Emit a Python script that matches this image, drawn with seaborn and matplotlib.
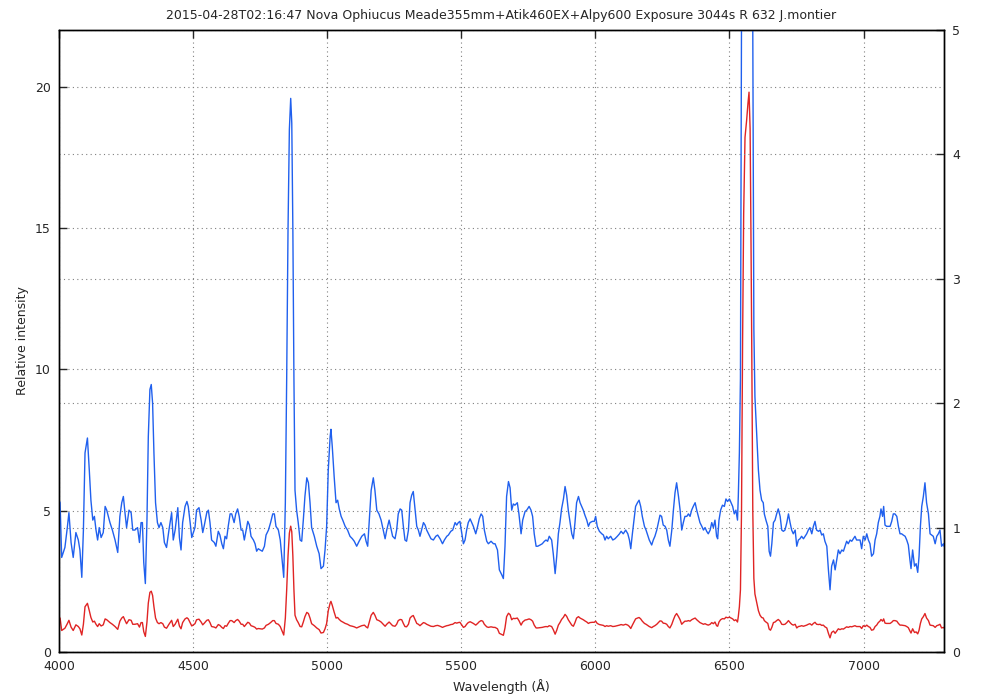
import matplotlib
matplotlib.use("Agg")
import matplotlib.pyplot as plt
import seaborn as sns

# spectrum: wavelength (A) and relative intensity
# red curve uses the left axis, blue curve is the same data on the right axis
wavelength = [
    4000, 4004, 4010, 4022, 4031, 4037, 4045, 4053, 4063, 4072, 4078, 4085, 4091, 4097,
    4106, 4113, 4119, 4126, 4132, 4138, 4144, 4150, 4157, 4165, 4172, 4178, 4184, 4190,
    4199, 4209, 4219, 4227, 4234, 4240, 4246, 4252, 4261, 4269, 4275, 4283, 4293, 4300,
    4306, 4311, 4316, 4322, 4328, 4333, 4339, 4344, 4349, 4354, 4360, 4367, 4373, 4380,
    4387, 4393, 4401, 4410, 4420, 4426, 4433, 4443, 4449, 4455, 4461, 4470, 4477, 4482,
    4489, 4495, 4501, 4507, 4513, 4522, 4530, 4536, 4542, 4551, 4557, 4563, 4569, 4579,
    4585, 4594, 4600, 4607, 4613, 4619, 4625, 4631, 4638, 4644, 4653, 4659, 4666, 4672,
    4679, 4685, 4691, 4697, 4704, 4710, 4716, 4725, 4731, 4737, 4743, 4750, 4758, 4766,
    4772, 4781, 4789, 4797, 4803, 4809, 4818, 4825, 4832, 4838, 4844, 4849, 4854, 4859,
    4864, 4868, 4872, 4876, 4880, 4886, 4892, 4899, 4905, 4911, 4917, 4924, 4930, 4936,
    4942, 4952, 4961, 4970, 4977, 4986, 4992, 4998, 5004, 5011, 5014, 5019, 5026, 5033,
    5039, 5045, 5052, 5058, 5067, 5076, 5085, 5094, 5101, 5110, 5119, 5129, 5139,
    5145, 5151, 5157, 5164, 5172, 5178, 5185, 5193, 5201, 5209, 5216, 5222, 5231, 5237,
    5244, 5253, 5259, 5265, 5272, 5278, 5284, 5290, 5296, 5303, 5309, 5315, 5321, 5328,
    5334, 5340, 5346, 5352, 5359, 5365, 5371, 5380, 5387, 5396, 5405, 5412, 5421, 5430,
    5437, 5446, 5452, 5461, 5468, 5477, 5483, 5489, 5495, 5502, 5508, 5514, 5520, 5526,
    5533, 5539, 5545, 5554, 5561, 5567, 5574, 5580, 5586, 5595, 5601, 5611, 5620, 5626,
    5635, 5642, 5651, 5657, 5663, 5669, 5676, 5682, 5688, 5694,
    5700, 5709, 5715, 5723, 5729, 5738, 5744, 5753, 5760, 5766, 5772, 5779, 5785, 5794,
    5802, 5810, 5816, 5822, 5828, 5837, 5843, 5850, 5856, 5862, 5868, 5874, 5881, 5887,
    5893, 5899, 5906, 5912, 5918, 5924, 5930, 5937, 5943, 5949, 5955, 5961, 5968, 5974,
    5980, 5989, 5996, 6001, 6007, 6015, 6024, 6030, 6036, 6042, 6048, 6057, 6065, 6073,
    6082, 6090, 6096, 6104, 6113, 6121, 6127, 6132, 6138, 6144, 6150, 6157, 6163, 6169,
    6175, 6183, 6189, 6195, 6201, 6210, 6216, 6222, 6229, 6235, 6241, 6247, 6253, 6260,
    6266, 6272, 6278, 6285, 6291, 6297, 6303, 6310, 6316, 6322, 6328, 6334, 6341, 6347,
    6353, 6359, 6365, 6372, 6378, 6384, 6390, 6397, 6403, 6409, 6415, 6421, 6428, 6434,
    6440, 6446, 6452, 6456, 6461, 6467, 6474, 6481, 6487, 6493, 6500, 6506, 6512, 6518,
    6524, 6530, 6533, 6537, 6541, 6545, 6549, 6553, 6558, 6564, 6569, 6573, 6577, 6580,
    6583, 6587, 6591, 6595, 6602, 6608, 6614, 6620, 6626, 6630, 6636, 6643, 6648, 6653,
    6658, 6664, 6670, 6676, 6682, 6689, 6695, 6701, 6707, 6714, 6720, 6726, 6732, 6738,
    6745, 6751, 6757, 6763, 6769, 6776,
    6782, 6788, 6794, 6800, 6807, 6813, 6819, 6825, 6832, 6838, 6844, 6850, 6856, 6863,
    6869, 6875, 6881, 6888, 6894, 6900, 6906, 6912, 6919, 6925, 6931, 6937, 6943, 6950,
    6956, 6962, 6968, 6974, 6981, 6987, 6993, 6999, 7006, 7012, 7018, 7024, 7030, 7037,
    7043, 7049, 7055, 7061, 7065, 7071, 7075, 7080, 7086, 7093, 7099, 7105, 7111, 7117,
    7124, 7130, 7136, 7142, 7148, 7155, 7161, 7167, 7173, 7177, 7183, 7190, 7196, 7202,
    7207, 7212, 7217, 7223, 7229, 7235, 7242, 7248, 7254, 7260, 7267, 7273, 7279, 7285,
    7291, 7298, 7300,
]
intensity = [
    1.22, 1.20, 0.76, 0.84, 1.00, 1.12, 0.88, 0.76, 0.96, 0.90, 0.82, 0.60, 0.98, 1.60,
    1.72, 1.46, 1.22, 1.06, 1.09, 0.98, 0.90, 1.00, 0.92, 0.96, 1.17, 1.14, 1.09, 1.04,
    0.98, 0.90, 0.80, 1.09, 1.20, 1.25, 1.12, 1.00, 1.14, 1.12, 0.98, 0.98, 1.00, 0.88,
    1.04, 1.04, 0.72, 0.55, 1.06, 1.73, 2.11, 2.15, 2.00, 1.60, 1.20, 1.04, 1.00, 1.04,
    1.00, 0.88, 0.84, 0.98, 1.12, 0.90, 0.98, 1.16, 0.92, 0.82, 1.04, 1.17, 1.21, 1.17,
    1.04, 0.92, 0.96, 1.00, 1.14, 1.16, 1.06, 0.96, 1.02, 1.12, 1.14, 1.04, 0.90, 0.88,
    0.85, 0.97, 0.94, 0.87, 0.83, 0.93, 0.91, 1.01, 1.11, 1.11, 1.04, 1.11, 1.15, 1.09,
    0.98, 0.98, 0.90, 0.97, 1.05, 1.02, 0.93, 0.90, 0.87, 0.81, 0.83, 0.82, 0.81, 0.85,
    0.94, 0.98, 1.04, 1.11, 1.11, 1.01, 0.98, 0.90, 0.74, 0.60, 1.20, 2.20, 3.40, 4.20,
    4.45, 4.25, 3.40, 2.20, 1.30, 1.14, 1.04, 0.90, 0.89, 1.06, 1.25, 1.40, 1.36, 1.20,
    1.00, 0.93, 0.85, 0.79, 0.67, 0.69, 0.82, 1.01, 1.46, 1.73, 1.79, 1.65, 1.41, 1.20,
    1.22, 1.15, 1.09, 1.06, 1.01, 0.98, 0.93, 0.91, 0.89, 0.85, 0.89, 0.93, 0.95,
    0.89, 0.85, 1.06, 1.30, 1.40, 1.30, 1.14, 1.11, 1.06, 0.98, 0.91, 0.98, 1.06, 1.00,
    0.93, 0.91, 0.98, 1.11, 1.15, 1.14, 1.01, 0.90, 0.89, 0.98, 1.20, 1.26, 1.29, 1.14,
    1.01, 0.98, 0.93, 0.98, 1.04, 1.02, 0.98, 0.94, 0.91, 0.90, 0.93, 0.94, 0.91, 0.87,
    0.90, 0.93, 0.94, 0.97, 0.98, 1.04, 1.02, 1.04, 1.05, 0.95, 0.87, 0.90, 0.98, 1.04,
    1.07, 1.04, 1.01, 0.95, 1.01, 1.07, 1.11, 1.09, 0.98, 0.89, 0.87, 0.89, 0.87, 0.87,
    0.82, 0.66, 0.62, 0.59, 0.85, 1.25, 1.37, 1.32, 1.14, 1.19,
    1.18, 1.20, 1.11, 0.95, 1.06, 1.13, 1.14, 1.17, 1.14, 1.09, 0.95, 0.85, 0.85, 0.86,
    0.87, 0.89, 0.90, 0.89, 0.93, 0.90, 0.79, 0.63, 0.77, 0.95, 1.04, 1.15, 1.23, 1.33,
    1.26, 1.14, 1.04, 0.95, 0.91, 1.04, 1.20, 1.25, 1.20, 1.17, 1.14, 1.10, 1.06, 1.01,
    1.04, 1.05, 1.05, 1.09, 1.01, 0.97, 0.95, 0.94, 0.90, 0.93, 0.91, 0.93, 0.90, 0.91,
    0.93, 0.95, 0.97, 0.95, 0.98, 0.95, 0.90, 0.83, 0.95, 1.06, 1.17, 1.20, 1.22, 1.17,
    1.09, 1.01, 0.98, 0.94, 0.90, 0.86, 0.90, 0.93, 0.98, 1.04, 1.10, 1.09, 1.02, 1.01,
    0.98, 0.90, 0.85, 0.98, 1.14, 1.28, 1.36, 1.25, 1.14, 0.98, 1.04, 1.09, 1.09, 1.11,
    1.09, 1.14, 1.17, 1.20, 1.14, 1.09, 1.04, 1.01, 0.98, 1.00, 0.97, 0.95, 0.98, 1.04,
    1.00, 1.06, 0.93, 0.91, 1.06, 1.14, 1.18, 1.17, 1.23, 1.21, 1.23, 1.20, 1.17, 1.11,
    1.14, 1.06, 1.25, 1.60, 2.20, 5.00, 11.0, 15.5, 18.2, 18.8, 19.4, 19.8, 18.5, 15.0,
    11.0, 5.00, 2.60, 2.05, 1.73, 1.46, 1.30, 1.22, 1.20, 1.11, 1.06, 1.01, 0.81, 0.77,
    0.87, 1.04, 1.06, 1.11, 1.15, 1.09, 0.98, 0.97, 0.98, 1.04, 1.11, 1.04, 0.98, 0.95,
    0.98, 0.85, 0.90, 0.91, 0.93, 0.91,
    0.93, 0.95, 0.98, 1.00, 0.95, 1.01, 1.05, 0.98, 0.97, 0.98, 0.94, 0.95, 0.89, 0.85,
    0.66, 0.50, 0.69, 0.74, 0.66, 0.74, 0.82, 0.79, 0.82, 0.81, 0.85, 0.89, 0.87, 0.90,
    0.89, 0.91, 0.93, 0.90, 0.90, 0.90, 0.83, 0.93, 0.90, 0.95, 0.90, 0.87, 0.77, 0.79,
    0.90, 0.95, 1.04, 1.09, 1.15, 1.09, 1.17, 1.02, 1.01, 1.01, 1.01, 1.05, 1.11, 1.11,
    1.09, 1.01, 0.95, 0.95, 0.94, 0.93, 0.90, 0.86, 0.74, 0.67, 0.82, 0.69, 0.71, 0.64,
    0.77, 1.01, 1.17, 1.25, 1.36, 1.20, 1.11, 0.95, 0.94, 0.93, 0.87, 0.93, 0.95, 0.98,
    0.85, 0.87, 0.85,
]

x_ticks = [4000, 4500, 5000, 5500, 6000, 6500, 7000]
left_ticks = [0, 5, 10, 15, 20]
right_ticks = [0, 1, 2, 3, 4, 5]
title = ("2015-04-28T02:16:47 Nova Ophiucus Meade355mm+Atik460EX+Alpy600 "
         "Exposure 3044s R 632 J.montier")

sns.set_style("white")
plt.rcParams["font.family"] = ["DejaVu Sans"]
plt.rcParams["font.size"] = 9

red = "#e02424"
blue = "#2060ee"
grid_kw = dict(color="#808080", linestyle=(0, (1, 3)), linewidth=0.8)

fig = plt.figure(figsize=(10, 7), dpi=100)
ax = fig.add_axes([0.059, 0.0686, 0.885, 0.8886])

sns.lineplot(x=wavelength, y=intensity, ax=ax, color=red, linewidth=1, sort=False)
ax.set_xlim(4000, 7300)
ax.set_ylim(0, 22)
ax.set_xticks(x_ticks)
ax.set_yticks(left_ticks)
ax.grid(True, **grid_kw)
ax.set_xlabel("Wavelength (Å)", fontsize=9)
ax.set_ylabel("Relative intensity", fontsize=9)
ax.set_title(title, fontsize=9, pad=8)
ax.tick_params(direction="in", length=6, width=1, top=True, labelsize=9, pad=6)

ax2 = ax.twinx()
sns.lineplot(x=wavelength, y=intensity, ax=ax2, color=blue, linewidth=1, sort=False)
ax2.set_ylim(0, 5)
ax2.set_yticks(right_ticks)
ax2.grid(True, axis="y", **grid_kw)
ax2.tick_params(direction="in", length=6, width=1, labelsize=9, pad=6)

for a in (ax, ax2):
    for s in a.spines.values():
        s.set_color("black")
        s.set_linewidth(1)

fig.savefig("out.png", dpi=100)
